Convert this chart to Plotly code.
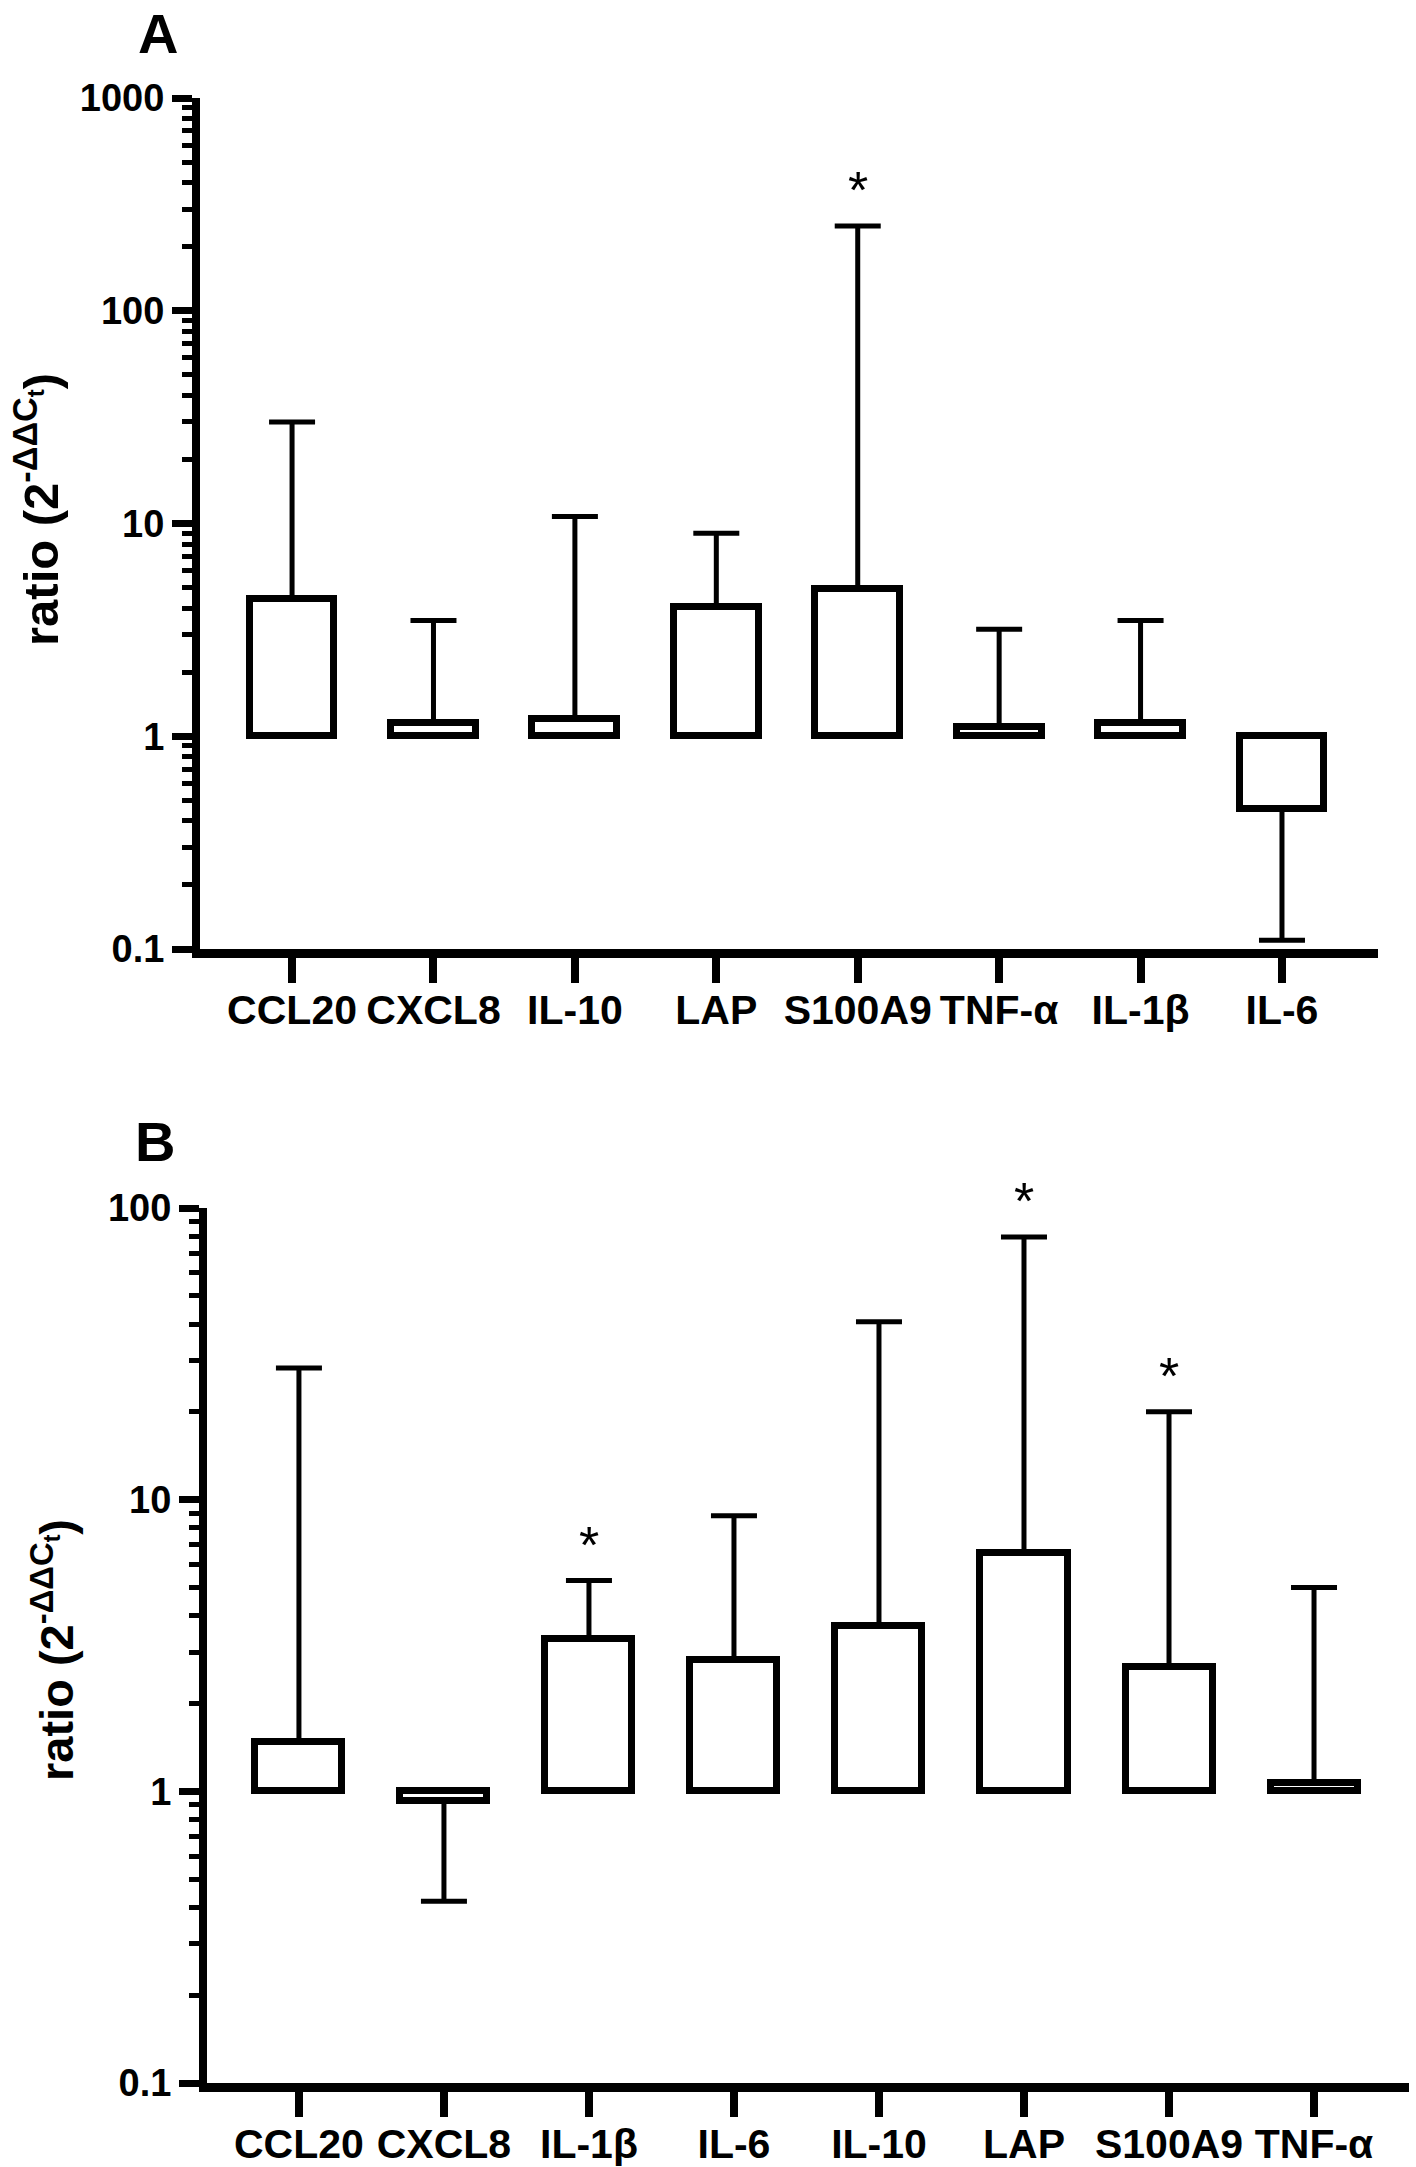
import numpy as np
import plotly.graph_objects as go

# ---------------- data ----------------
CATS_A = ["CCL20", "CXCL8", "IL-10", "LAP", "S100A9", "TNF-α", "IL-1β", "IL-6"]
MEAN_A = [4.4, 1.16, 1.20, 4.04, 4.9, 1.10, 1.15, 0.454]
ERR_END_A = [30.0, 3.5, 10.8, 9.0, 250.0, 3.18, 3.5, 0.110]
SIG_A = [False, False, False, False, True, False, False, False]

CATS_B = ["CCL20", "CXCL8", "IL-1β", "IL-6", "IL-10", "LAP", "S100A9", "TNF-α"]
MEAN_B = [1.48, 0.925, 3.34, 2.81, 3.7, 6.58, 2.66, 1.07]
ERR_END_B = [28.3, 0.42, 5.28, 8.8, 40.7, 79.5, 20.0, 5.0]
SIG_B = [False, False, True, False, False, True, True, False]

YTICKS_A = [0.1, 1, 10, 100, 1000]
YTICKTEXT_A = ["0.1", "1", "10", "100", "1000"]
YTICKS_B = [0.1, 1, 10, 100]
YTICKTEXT_B = ["0.1", "1", "10", "100"]
BASELINE = 1.0

YTITLE = "ratio (2<sup>-ΔΔC<sub>t</sub></sup>)"

# ---------------- style ----------------
W, H = 1416, 2167
FONT = "Liberation Sans, Arial, sans-serif"


def px_x(p):
    return p / W


def px_y(p):
    return 1 - p / H


fig = go.Figure()


def add_panel(cats, means, ends, sig, xa, ya, bar_w):
    plus = [max(e - m, 0) if m >= BASELINE else 0 for m, e in zip(means, ends)]
    minus = [max(m - e, 0) if m < BASELINE else 0 for m, e in zip(means, ends)]
    fig.add_trace(go.Bar(
        x=cats, y=[m - BASELINE for m in means], base=BASELINE,
        xaxis=xa, yaxis=ya, width=bar_w,
        marker=dict(color="white", line=dict(color="black", width=7)),
        error_y=dict(type="data", symmetric=False, array=plus, arrayminus=minus,
                     color="black", thickness=5, width=23),
        showlegend=False, hoverinfo="skip",
    ))
    for c, s, m, e in zip(cats, sig, means, ends):
        if s:
            fig.add_annotation(x=c, y=np.log10(e), xref=xa, yref=ya, text="*",
                               showarrow=False, yanchor="middle", yshift=36,
                               font=dict(family=FONT, size=52, color="black"))
    fig.add_shape(type="line", xref=f"{xa} domain", yref=ya, x0=0, x1=1,
                  y0=np.log10(BASELINE), y1=np.log10(BASELINE),
                  line=dict(color="black", width=8), layer="above")


add_panel(CATS_A, MEAN_A, ERR_END_A, SIG_A, "x", "y", 0.60)
add_panel(CATS_B, MEAN_B, ERR_END_B, SIG_B, "x2", "y2", 0.60)

xaxis_common = dict(type="category", showline=True, linecolor="black", linewidth=9,
                    ticks="outside", ticklen=25, tickwidth=8, tickcolor="black",
                    showgrid=False, zeroline=False, fixedrange=True, automargin=False,
                    ticklabelstandoff=-8,
                    tickfont=dict(family=FONT, size=41, color="black", weight=700))
yaxis_common = dict(type="log", showline=True, linecolor="black", linewidth=8,
                    ticks="outside", ticklen=20, tickwidth=7, tickcolor="black",
                    showgrid=False, zeroline=False, automargin=False,
                    minor=dict(ticks="outside", ticklen=10, tickwidth=5,
                               tickcolor="black", dtick="D1", showgrid=False),
                    tickfont=dict(family=FONT, size=38, color="black", weight=700))

fig.update_layout(
    width=W, height=H,
    margin=dict(l=0, r=0, t=0, b=0, pad=0),
    paper_bgcolor="white", plot_bgcolor="white",
    bargap=0,
    xaxis=dict(**xaxis_common, domain=[px_x(200), px_x(1378)], anchor="y",
               range=[-0.651, 7.679]),
    yaxis=dict(**yaxis_common, domain=[px_y(949), px_y(98)], anchor="x",
               range=[-1, 3], tickvals=YTICKS_A, ticktext=YTICKTEXT_A),
    xaxis2=dict(**xaxis_common, domain=[px_x(207), px_x(1409)], anchor="y2",
                range=[-0.634, 7.655]),
    yaxis2=dict(**yaxis_common, domain=[px_y(2083), px_y(1208)], anchor="x2",
                range=[-1, 2], tickvals=YTICKS_B, ticktext=YTICKTEXT_B),
)

# panel letters
fig.add_annotation(x=px_x(158), y=px_y(34), xref="paper", yref="paper", text="A",
                   showarrow=False, xanchor="center", yanchor="middle",
                   font=dict(family=FONT, size=56, color="black", weight=700))
fig.add_annotation(x=px_x(155), y=px_y(1141), xref="paper", yref="paper", text="B",
                   showarrow=False, xanchor="center", yanchor="middle",
                   font=dict(family=FONT, size=56, color="black", weight=700))

# y-axis titles
fig.add_annotation(x=px_x(37), y=px_y(510), xref="paper", yref="paper", text=YTITLE,
                   showarrow=False, textangle=-90, xanchor="center", yanchor="middle",
                   font=dict(family=FONT, size=49, color="black", weight=700))
fig.add_annotation(x=px_x(53), y=px_y(1650), xref="paper", yref="paper", text=YTITLE,
                   showarrow=False, textangle=-90, xanchor="center", yanchor="middle",
                   font=dict(family=FONT, size=47, color="black", weight=700))

fig.write_html("out.html", config={"displayModeBar": False},
               post_script="document.body.style.margin='0px';")
